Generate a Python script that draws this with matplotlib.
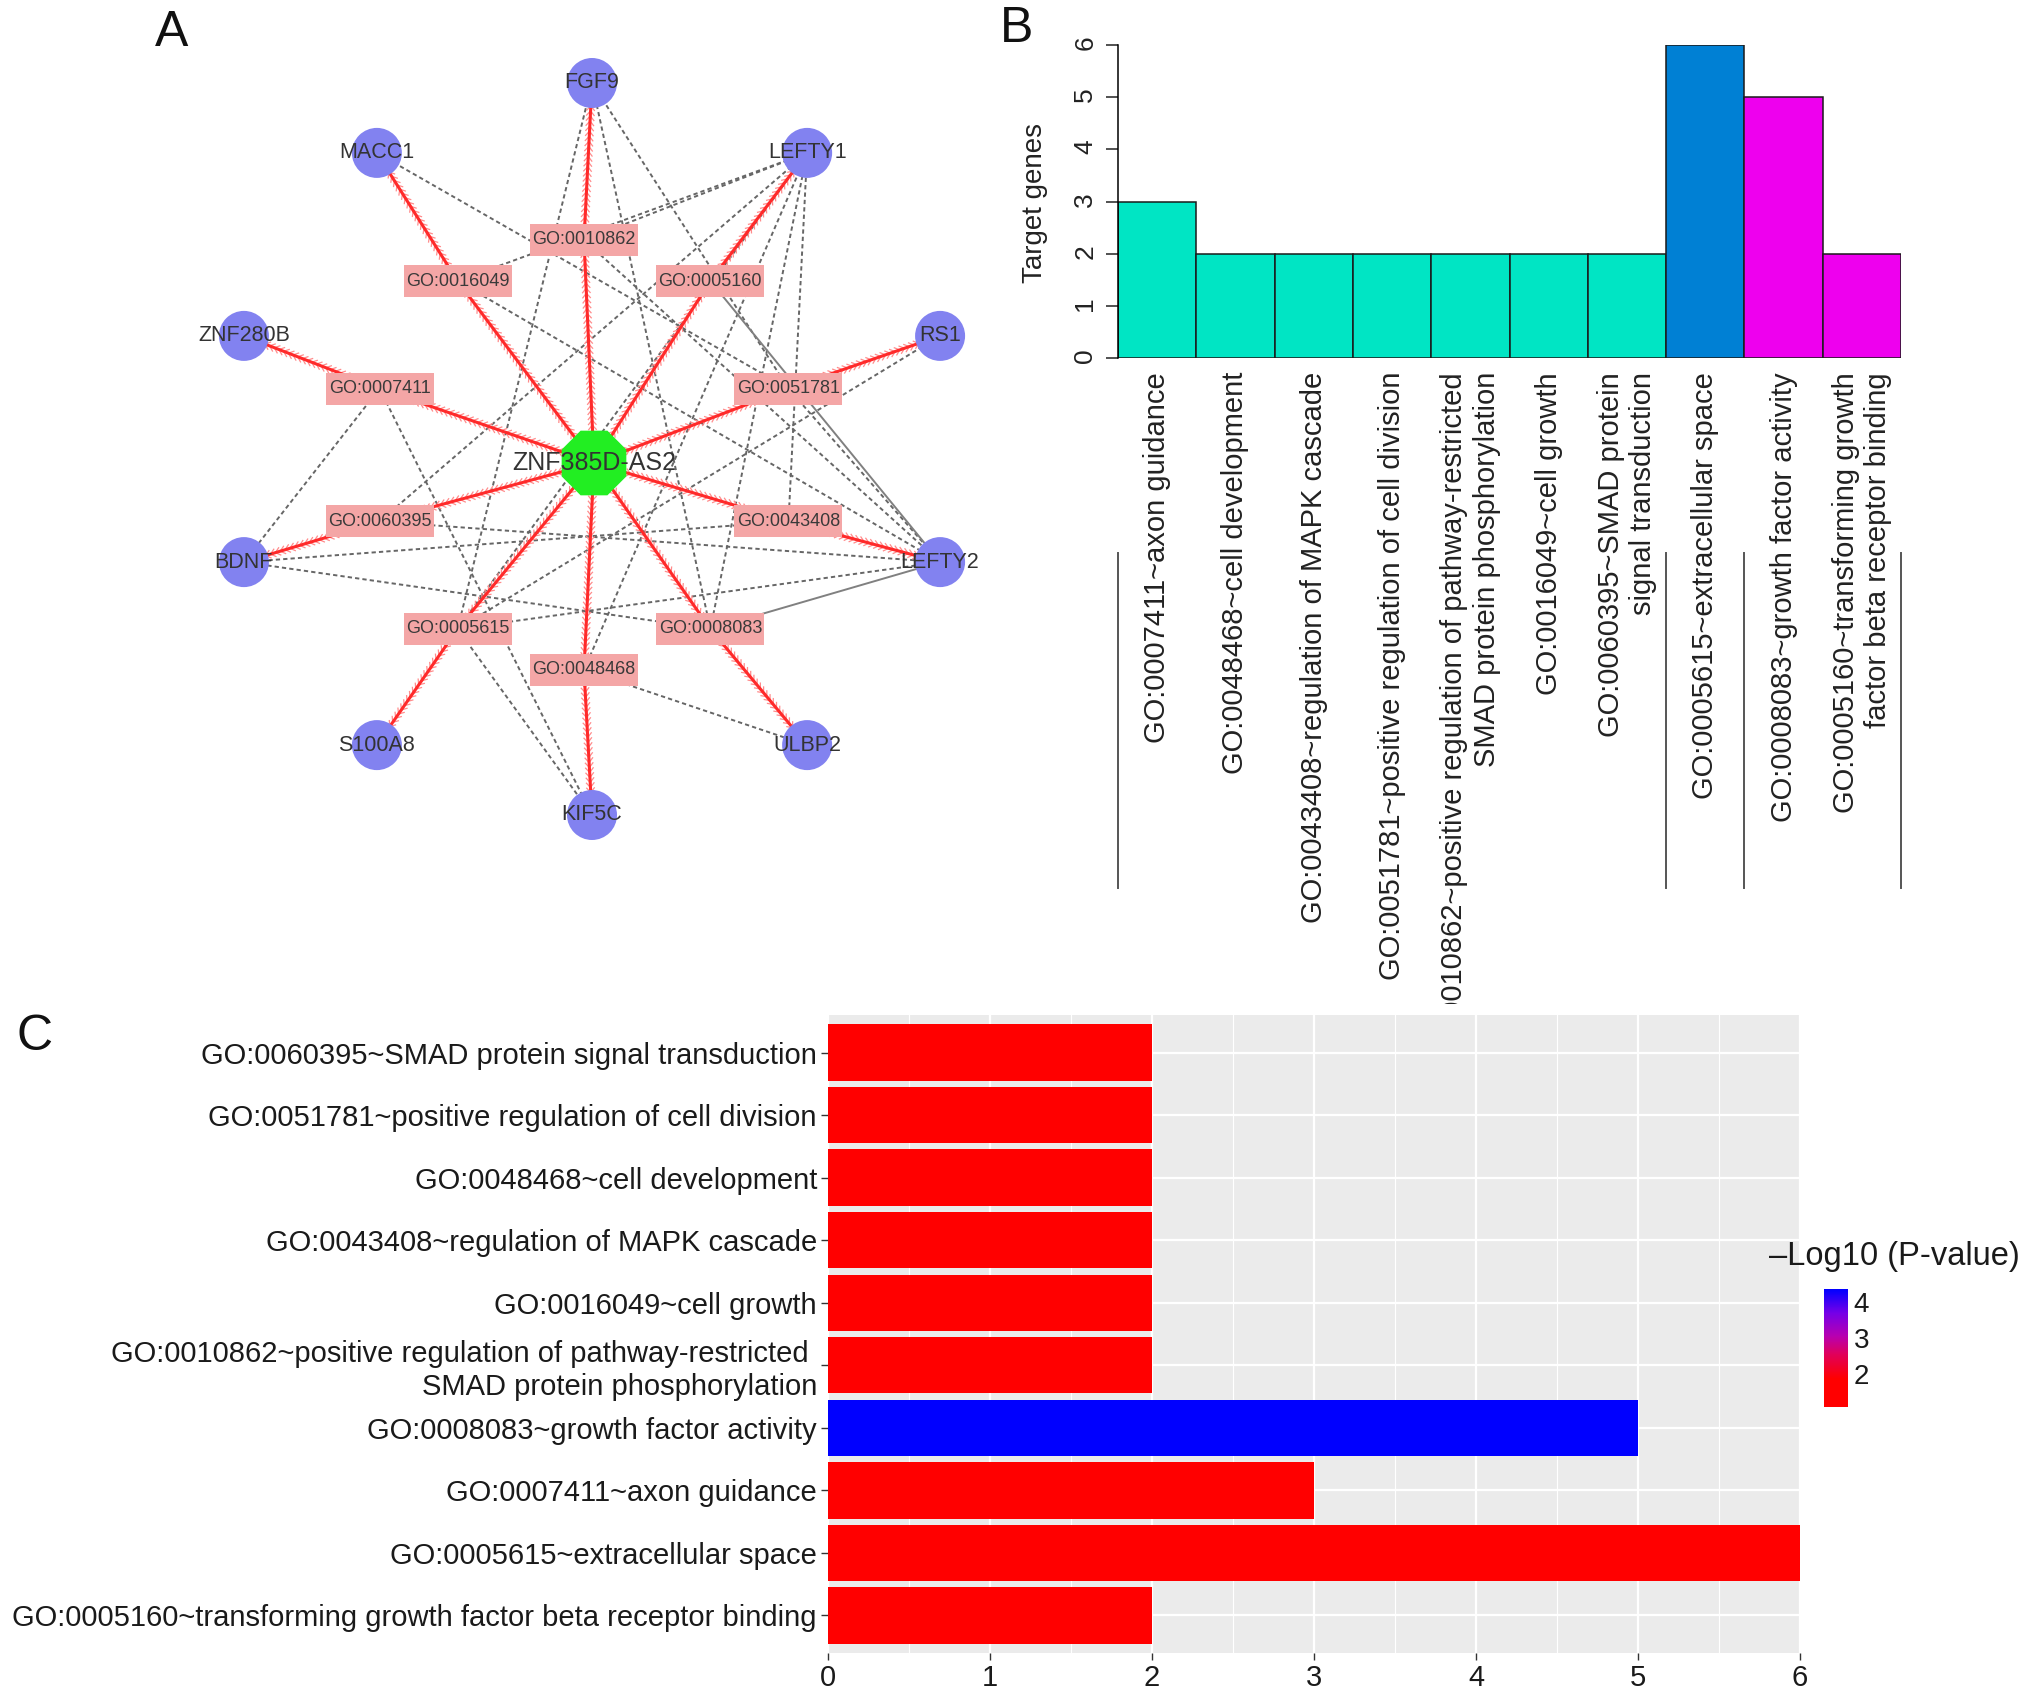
import numpy as np
import matplotlib
matplotlib.use("Agg")
import matplotlib.pyplot as plt
from matplotlib import patches
from matplotlib import patheffects as pe
from matplotlib.colors import LinearSegmentedColormap, Normalize
from matplotlib.cm import ScalarMappable
from matplotlib.transforms import Bbox, TransformedBbox, blended_transform_factory

plt.rcParams['font.family'] = ['Liberation Sans', 'DejaVu Sans']

# ---------------- data ----------------
hub = "ZNF385D-AS2"
ring_genes = ["FGF9", "LEFTY1", "RS1", "LEFTY2", "ULBP2",
              "KIF5C", "S100A8", "BDNF", "ZNF280B", "MACC1"]
ring_go = ["GO:0010862", "GO:0005160", "GO:0051781", "GO:0043408", "GO:0008083",
           "GO:0048468", "GO:0005615", "GO:0060395", "GO:0007411", "GO:0016049"]
dashed_links = [
    ("GO:0010862", "LEFTY1"), ("GO:0010862", "LEFTY2"),
    ("GO:0016049", "LEFTY1"), ("GO:0016049", "LEFTY2"),
    ("GO:0007411", "BDNF"), ("GO:0007411", "KIF5C"),
    ("GO:0051781", "MACC1"), ("GO:0051781", "LEFTY2"),
    ("GO:0060395", "LEFTY1"), ("GO:0060395", "LEFTY2"),
    ("GO:0043408", "LEFTY1"), ("GO:0043408", "BDNF"),
    ("GO:0005615", "FGF9"), ("GO:0005615", "LEFTY1"), ("GO:0005615", "LEFTY2"),
    ("GO:0005615", "RS1"), ("GO:0005615", "KIF5C"),
    ("GO:0008083", "FGF9"), ("GO:0008083", "LEFTY1"), ("GO:0008083", "BDNF"),
    ("GO:0048468", "ULBP2"), ("GO:0048468", "LEFTY1"),
    ("GO:0051781", "FGF9"),
]
solid_links = [("GO:0005160", "LEFTY2"), ("GO:0008083", "LEFTY2")]

b_labels = ["GO:0007411~axon guidance",
            "GO:0048468~cell development",
            "GO:0043408~regulation of MAPK cascade",
            "GO:0051781~positive regulation of cell division",
            "GO:0010862~positive regulation of pathway-restricted\nSMAD protein phosphorylation",
            "GO:0016049~cell growth",
            "GO:0060395~SMAD protein\nsignal transduction",
            "GO:0005615~extracellular space",
            "GO:0008083~growth factor activity",
            "GO:0005160~transforming growth\nfactor beta receptor binding"]
b_counts = [3, 2, 2, 2, 2, 2, 2, 6, 5, 2]
b_groups = ["BP"] * 7 + ["CC"] + ["MF"] * 2

c_terms = ["GO:0060395~SMAD protein signal transduction",
           "GO:0051781~positive regulation of cell division",
           "GO:0048468~cell development",
           "GO:0043408~regulation of MAPK cascade",
           "GO:0016049~cell growth",
           "GO:0010862~positive regulation of pathway-restricted \nSMAD protein phosphorylation",
           "GO:0008083~growth factor activity",
           "GO:0007411~axon guidance",
           "GO:0005615~extracellular space",
           "GO:0005160~transforming growth factor beta receptor binding"]
c_counts = [2, 2, 2, 2, 2, 2, 5, 3, 6, 2]
c_logp = [1.25, 1.15, 1.10, 1.12, 1.20, 1.30, 4.36, 1.35, 1.08, 1.18]

# ---------------- figure ----------------
W, H = 2032, 1698
fig = plt.figure(figsize=(W / 100, H / 100), dpi=100)


def frect(l, t, r, b):
    return [l / W, 1 - b / H, (r - l) / W, (b - t) / H]


# ---------------- Panel A: network ----------------
axA = fig.add_axes(frect(0, 0, 1016, 1000))
axA.set_xlim(0, 1016)
axA.set_ylim(1000, 0)
axA.axis('off')

HUB_C = (594, 463)
GENE_C, GENE_R = (592, 449), 366
GO_C, GO_R = (584, 455), 215
n = len(ring_genes)
ang = np.deg2rad(90 - 36 * np.arange(n))
pos = {hub: HUB_C}
for i in range(n):
    pos[ring_genes[i]] = (GENE_C[0] + GENE_R * np.cos(ang[i]), GENE_C[1] - GENE_R * np.sin(ang[i]))
    pos[ring_go[i]] = (GO_C[0] + GO_R * np.cos(ang[i]), GO_C[1] - GO_R * np.sin(ang[i]))

for a, b in dashed_links:
    axA.plot([pos[a][0], pos[b][0]], [pos[a][1], pos[b][1]], ls=(0, (2.2, 1.6)),
             color='#666666', lw=1.4, zorder=1)
for a, b in solid_links:
    axA.plot([pos[a][0], pos[b][0]], [pos[a][1], pos[b][1]], ls='-',
             color='#808080', lw=1.4, zorder=1)

red_fx = [pe.TickedStroke(spacing=3.6, angle=140, length=1.3, linewidth=0.9, foreground='#ff8c8c'),
          pe.TickedStroke(spacing=3.6, angle=-140, length=1.3, linewidth=0.9, foreground='#ff8c8c'),
          pe.Normal()]
for g, gene in zip(ring_go, ring_genes):
    for a, b in [(hub, g), (g, gene)]:
        ln, = axA.plot([pos[a][0], pos[b][0]], [pos[a][1], pos[b][1]], color='#ff2a2a',
                       lw=2.2, zorder=2, solid_capstyle='butt')
        ln.set_path_effects(red_fx)

for gene in ring_genes:
    axA.add_patch(patches.Circle(pos[gene], 25, facecolor='#8282f0', edgecolor='none', zorder=3))
    axA.text(pos[gene][0], pos[gene][1], gene, ha='center', va='center', fontsize=15.5,
             color='#333333', zorder=5)
for g in ring_go:
    axA.add_patch(patches.Rectangle((pos[g][0] - 54, pos[g][1] - 16), 108, 32,
                                    facecolor='#f4a6a6', edgecolor='none', zorder=3))
    axA.text(pos[g][0], pos[g][1], g, ha='center', va='center', fontsize=13,
             color='#3a3a3a', zorder=5)
axA.add_patch(patches.RegularPolygon(HUB_C, 8, radius=35, orientation=np.pi / 8,
                                     facecolor='#22ee22', edgecolor='none', zorder=4))
axA.text(HUB_C[0], HUB_C[1], hub, ha='center', va='center', fontsize=18,
         color='#333333', zorder=6)

# ---------------- Panel B: bar chart ----------------
grp_col = {"BP": "#00e5c4", "CC": "#0080d4", "MF": "#ee00ee"}
axB = fig.add_axes(frect(1118, 45, 1901, 358))
xB = np.arange(len(b_counts)) + 0.5
axB.bar(xB, b_counts, width=1.0, color=[grp_col[g] for g in b_groups],
        edgecolor='#1a1a1a', linewidth=1.1)
axB.set_xlim(0, len(b_counts))
axB.set_ylim(0, 6)
for s in ['top', 'right', 'bottom']:
    axB.spines[s].set_visible(False)
axB.spines['left'].set_bounds(0, 6)
axB.spines['left'].set_linewidth(1.1)
axB.set_yticks(range(7))
axB.tick_params(axis='y', length=9, width=1.1, labelsize=19, labelrotation=90, pad=6,
                colors='#222222')
axB.set_xticks([])
fig.text(1035 / W, 1 - 203 / H, "Target genes", rotation=90, ha='center', va='center',
         fontsize=20, color='#222222')

clipbox = TransformedBbox(Bbox([[0, 1 - 1004 / H], [1, 1]]), fig.transFigure)
transB = blended_transform_factory(axB.transData, fig.transFigure)
for xi, lab in zip(xB, b_labels):
    t = axB.text(xi, 1 - 372 / H, lab, transform=transB, rotation=90, ha='center', va='top',
                 multialignment='right', fontsize=21, color='#222222', clip_on=True)
    t.set_clip_box(clipbox)
# group separators
bounds = [0]
for i in range(1, len(b_groups)):
    if b_groups[i] != b_groups[i - 1]:
        bounds.append(i)
bounds.append(len(b_groups))
for xb in bounds:
    axB.plot([xb, xb], [1 - 553 / H, 1 - 888 / H], transform=transB, color='#555555',
             lw=1.4, clip_on=False)

# ---------------- Panel C: horizontal bars ----------------
cmap = LinearSegmentedColormap.from_list(
    "rb", [(0, '#ff0000'), (0.24, '#ff0000'), (0.45, '#e0005c'), (0.6, '#b800b0'),
           (0.8, '#7400e8'), (1.0, '#0000ff')])
norm = Normalize(vmin=min(c_logp), vmax=max(c_logp))

axC = fig.add_axes(frect(828, 1015, 1800, 1653))
axC.set_facecolor('#ebebeb')
yC = np.arange(len(c_terms))[::-1] + 1
axC.barh(yC, c_counts, height=0.9, color=cmap(norm(np.array(c_logp))), zorder=3)
axC.set_xlim(0, 6)
axC.set_ylim(0.4, len(c_terms) + 0.6)
axC.set_xticks(range(7))
axC.set_xticks(np.arange(0.5, 6, 1), minor=True)
axC.set_yticks(yC)
axC.set_yticklabels(c_terms, multialignment='right')
axC.grid(True, which='major', color='white', lw=1.6, zorder=0)
axC.grid(True, which='minor', axis='x', color='white', lw=0.8, zorder=0)
axC.set_axisbelow(True)
for s in axC.spines.values():
    s.set_visible(False)
axC.tick_params(axis='both', which='major', length=5, width=1, color='#333333',
                labelsize=21, labelcolor='#1a1a1a', pad=3)
axC.tick_params(axis='x', which='minor', length=0)

cax = fig.add_axes(frect(1824, 1289, 1848, 1407))
cb = fig.colorbar(ScalarMappable(norm=norm, cmap=cmap), cax=cax)
cb.outline.set_visible(False)
cb.set_ticks([2, 3, 4])
cax.tick_params(length=0, labelsize=20, pad=4, labelcolor='#1a1a1a')
fig.text(1769 / W, 1 - 1257 / H, "\u2013Log10 (P-value)", ha='left', va='center',
         fontsize=23.5, color='#1a1a1a')

# panel letters
fig.text(172 / W, 1 - 33 / H, "A", ha='center', va='center', fontsize=36, color='#111111')
fig.text(1017 / W, 1 - 29 / H, "B", ha='center', va='center', fontsize=36, color='#111111')
fig.text(35 / W, 1 - 1037 / H, "C", ha='center', va='center', fontsize=36, color='#111111')

fig.savefig("out.png", dpi=100, facecolor='white')
